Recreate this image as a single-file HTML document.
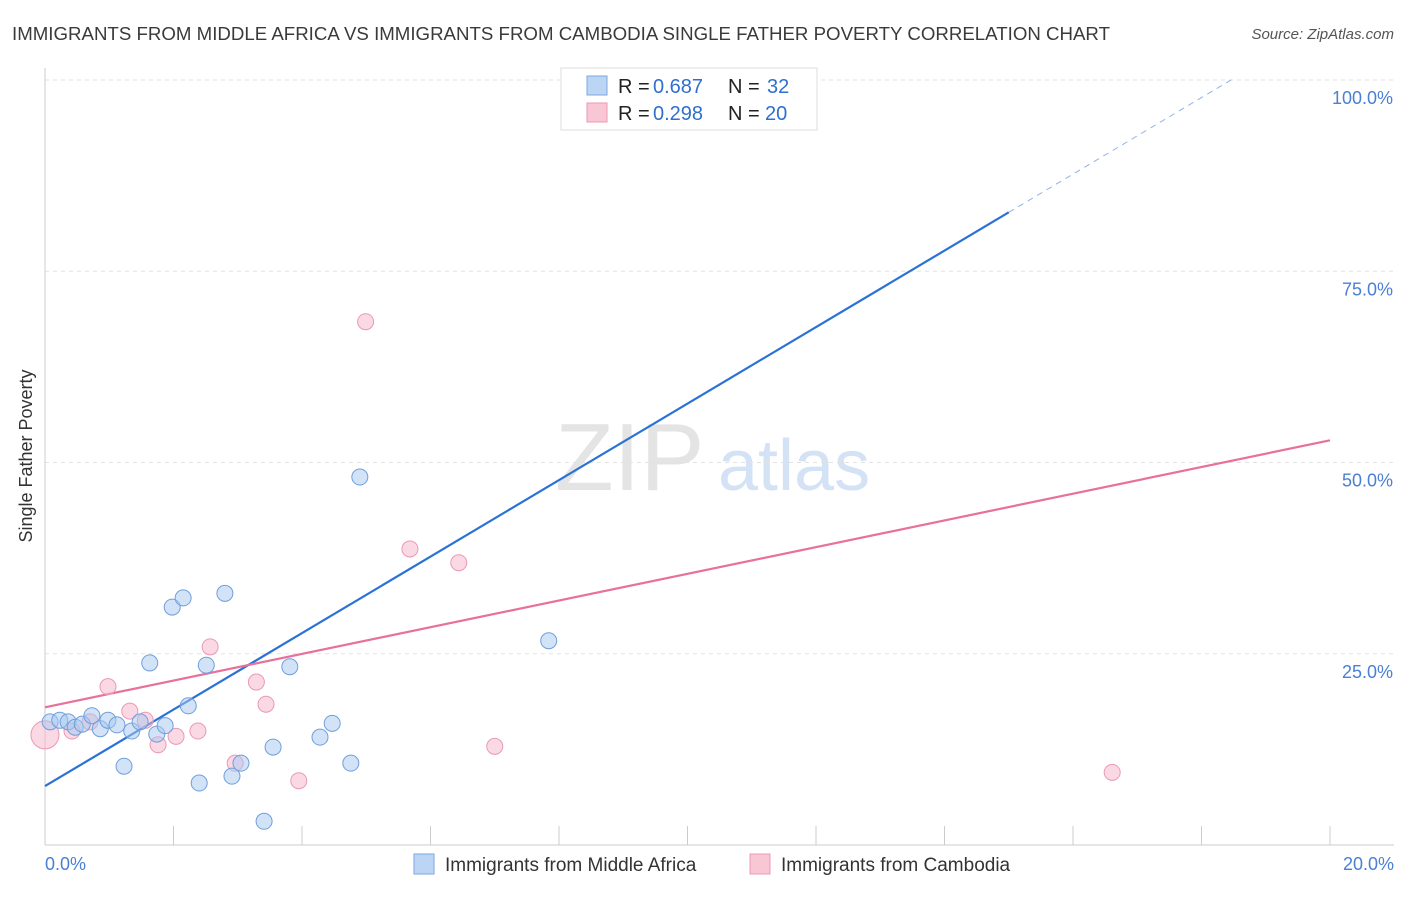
<!DOCTYPE html>
<html><head><meta charset="utf-8"><style>
body{margin:0;background:#fff;font-family:"Liberation Sans",sans-serif;}
svg text{font-family:"Liberation Sans",sans-serif;}
</style></head><body>
<svg id="chart" width="1406" height="892">
<text x="12" y="40" font-size="18" textLength="1098" lengthAdjust="spacingAndGlyphs" fill="#3a3a3a">IMMIGRANTS FROM MIDDLE AFRICA VS IMMIGRANTS FROM CAMBODIA SINGLE FATHER POVERTY CORRELATION CHART</text>
<text x="1394" y="39" font-size="15" fill="#555" font-style="italic" text-anchor="end">Source: ZipAtlas.com</text>
<text x="32" y="456" font-size="18" fill="#333" text-anchor="middle" transform="rotate(-90 32 456)">Single Father Poverty</text>
<g><text x="555" y="490" font-size="96" fill="#e4e4e4" font-family="Liberation Serif">ZIP</text><text x="718" y="490" font-size="72" fill="#d4e2f5">atlas</text></g>
<g id="grid"></g><g id="ticks"></g><g id="lines"></g><g id="points"></g>
<g>
<rect x="561" y="68" width="256" height="62" fill="#fff" stroke="#ddd"/>
<rect x="587" y="76" width="20" height="19" fill="#bcd5f5" stroke="#7aa8e0"/>
<rect x="587" y="103" width="20" height="19" fill="#f9c6d5" stroke="#eb98b5"/>
<text x="618" y="93" font-size="20" fill="#222">R =</text>
<text x="653" y="93" font-size="20" fill="#2f6fd0">0.687</text>
<text x="728" y="93" font-size="20" fill="#222">N =</text>
<text x="767" y="93" font-size="20" fill="#2f6fd0">32</text>
<text x="618" y="120" font-size="20" fill="#222">R =</text>
<text x="653" y="120" font-size="20" fill="#2f6fd0">0.298</text>
<text x="728" y="120" font-size="20" fill="#222">N =</text>
<text x="765" y="120" font-size="20" fill="#2f6fd0">20</text>
</g>
<g>
<rect x="414" y="854" width="20" height="20" fill="#bcd5f5" stroke="#7aa8e0"/>
<text x="445" y="871" font-size="19" fill="#333">Immigrants from Middle Africa</text>
<rect x="750" y="854" width="20" height="20" fill="#f9c6d5" stroke="#eb98b5"/>
<text x="781" y="871" font-size="19" fill="#333">Immigrants from Cambodia</text>
</g>
</svg>
<script>
const xTicks=[0,20];
const yTicks=[25,50,75,100];
const blueX=[0.08,0.23,0.36,0.47,0.58,0.73,0.86,0.98,1.12,1.23,1.35,1.48,1.63,1.74,1.87,1.98,2.15,2.23,2.40,2.51,2.80,2.91,3.05,3.41,3.55,3.81,4.28,4.47,4.76,4.90,7.84,11.44];
const blueY=[16.1,16.3,16.1,15.4,15.8,16.9,15.2,16.3,15.7,10.3,14.9,16.1,23.8,14.5,15.6,31.1,32.3,18.2,8.1,23.5,32.9,9.0,10.7,3.1,12.8,23.3,14.1,15.9,10.7,48.1,26.7,100];
const pinkX=[0.0,0.42,0.70,0.98,1.32,1.56,1.76,2.04,2.38,2.57,2.96,3.29,3.44,3.95,4.99,5.68,6.44,7.00,9.03,16.61];
const pinkY=[14.4,14.9,16.1,20.7,17.5,16.3,13.1,14.2,14.9,25.9,10.7,21.3,18.4,8.4,68.4,38.7,36.9,12.9,100,9.5];
const blueTrend=[7.7,5.0];
const pinkTrend=[18.0,1.745];
const NS='http://www.w3.org/2000/svg';
const X=v=>45+v*64.25, Y=v=>845-v*7.65;
function mk(p,t,a){const e=document.createElementNS(NS,t);for(const k in a)e.setAttribute(k,a[k]);document.getElementById(p).appendChild(e);return e;}
yTicks.forEach(t=>{
 const l=mk('grid','line',{x1:45,x2:1394,y1:Y(t),y2:Y(t),stroke:'#e2e2e2','stroke-dasharray':'4 4'});
 
 
 const tx=mk('ticks','text',{x:1393,y:Y(t)+24,'font-size':18,fill:'#4a7fd4','text-anchor':'end'});tx.textContent=t.toFixed(1)+'%';
 
 
});
mk('grid','line',{x1:45,x2:45,y1:68,y2:845,stroke:'#ccc'});
mk('grid','line',{x1:45,x2:1394,y1:845,y2:845,stroke:'#ccc'});
for(let i=0;i<=10;i++){mk('grid','line',{x1:X(i*2),x2:X(i*2),y1:826,y2:845,stroke:'#ccc'});}
xTicks.forEach((t,i)=>{const tx=mk('ticks','text',{x:i?1394:45,y:870,'font-size':18,fill:'#4a7fd4','text-anchor':i?'end':'start'});tx.textContent=t.toFixed(1)+'%';
 
 });
const bl=mk('lines','line',{x1:X(0),y1:Y(blueTrend[0]),x2:X(15),y2:Y(blueTrend[0]+15*blueTrend[1]),stroke:'#2a72d6','stroke-width':2.2});


mk('lines','line',{x1:X(15),y1:Y(blueTrend[0]+15*blueTrend[1]),x2:X(18.5),y2:Y(blueTrend[0]+18.5*blueTrend[1]),stroke:'#8fb3e6','stroke-width':1,'stroke-dasharray':'6 5'});
const pl=mk('lines','line',{x1:X(0),y1:Y(pinkTrend[0]),x2:X(20),y2:Y(pinkTrend[0]+20*pinkTrend[1]),stroke:'#e8709a','stroke-width':2.2});


pinkX.forEach((v,i)=>{const c=mk('points','circle',{cx:X(v),cy:Y(pinkY[i]),r:i==0?14:8,fill:'rgba(248,180,202,0.5)',stroke:'#eb98b5','stroke-width':1});
 
 });
blueX.forEach((v,i)=>{const c=mk('points','circle',{cx:X(v),cy:Y(blueY[i]),r:8,fill:'rgba(168,200,240,0.5)',stroke:'#6f9fdc','stroke-width':1});
 
 });
</script>
</body></html>
